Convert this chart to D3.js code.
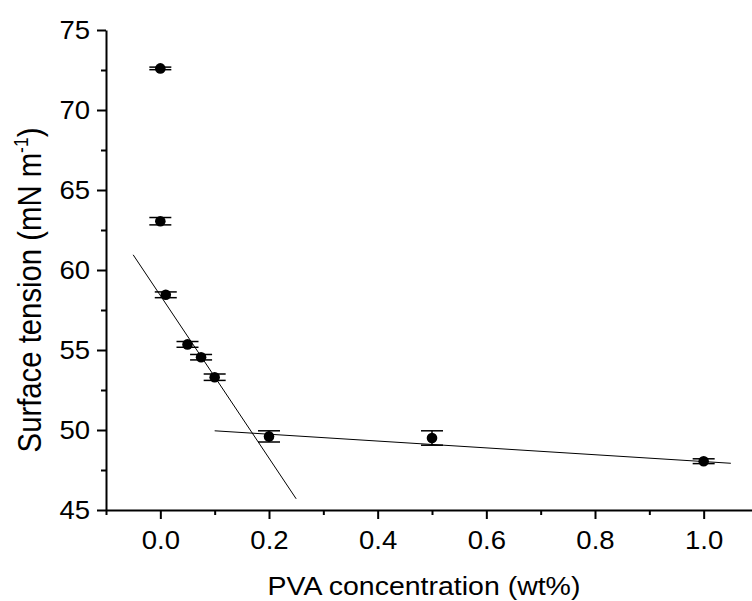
<!DOCTYPE html>
<html>
<head>
<meta charset="utf-8">
<script src="https://cdn.jsdelivr.net/npm/d3@7"></script>
<style>
    body { margin: 0; background: #fff; }
    svg { display: block; font-family: "Liberation Sans", Arial, sans-serif; }
</style>
</head>
<body>
<div id="chart"></div>
<script>
/**** DATA ****/

// PVA concentration (wt%) and surface tension (mN/m) with error
var concentration = [0, 0, 0.01, 0.05, 0.075, 0.1, 0.2, 0.5, 1.0];
var tension = [72.6, 63.05, 58.45, 55.35, 54.55, 53.3, 49.6, 49.5, 48.05];
var tensionErr = [0.08, 0.23, 0.18, 0.18, 0.17, 0.2, 0.35, 0.45, 0.15];

// Linear fits (end points)
var fitSteepX = [-0.05, 0.25];
var fitSteepY = [60.95, 45.7];
var fitFlatX = [0.1, 1.05];
var fitFlatY = [49.95, 47.92];

// Ticks
var xMajorTicks = [0.0, 0.2, 0.4, 0.6, 0.8, 1.0];
var xMinorTicks = [-0.1, 0.1, 0.3, 0.5, 0.7, 0.9];
var yMajorTicks = [45, 50, 55, 60, 65, 70, 75];
var yMinorTicks = [47.5, 52.5, 57.5, 62.5, 67.5, 72.5];

/**** CHART DRAWING ****/

var width = 752,
    height = 601;
// reference text is a little wider than Arial, stretch glyphs horizontally
var stretch = 1.08;

var x = d3.scaleLinear().domain([-0.1, 1.1]).range([106, 758]);
var y = d3.scaleLinear().domain([45, 75]).range([510, 30]);

var svg = d3.select('#chart')
    .append('svg')
    .attr('width', width)
    .attr('height', height);

// Y axis (major + minor)
var yAxis = d3.axisLeft(y)
    .tickValues(yMajorTicks)
    .tickSize(9)
    .tickSizeOuter(0)
    .tickPadding(7)
    .tickFormat(d3.format('d'));
var gy = svg.append('g')
    .attr('transform', 'translate(' + x(-0.1) + ',0)')
    .call(yAxis);
svg.append('g')
    .attr('transform', 'translate(' + x(-0.1) + ',0)')
    .call(d3.axisLeft(y).tickValues(yMinorTicks).tickSize(5).tickSizeOuter(0).tickFormat(''))
    .select('.domain').remove();

// X axis (major + minor)
var xAxis = d3.axisBottom(x)
    .tickValues(xMajorTicks)
    .tickSize(9)
    .tickSizeOuter(0)
    .tickPadding(12)
    .tickFormat(d3.format('.1f'));
var gx = svg.append('g')
    .attr('transform', 'translate(0,' + y(45) + ')')
    .call(xAxis);
svg.append('g')
    .attr('transform', 'translate(0,' + y(45) + ')')
    .call(d3.axisBottom(x).tickValues(xMinorTicks).tickSize(5).tickSizeOuter(0).tickFormat(''))
    .select('.domain').remove();

svg.selectAll('.domain, .tick line')
    .attr('stroke', '#000')
    .attr('stroke-width', 2);
svg.selectAll('.tick text')
    .attr('fill', '#000')
    .style('font-size', '25.5px')
    .style('font-family', '"Liberation Sans", Arial, sans-serif')
    .attr('transform', 'scale(' + stretch + ',1)');
// keep right edge of y labels in place after scaling
gy.selectAll('.tick text').attr('x', -16 / stretch);

// Axis titles
svg.append('text')
    .attr('transform', 'translate(424,595) scale(1.075,1)')
    .attr('text-anchor', 'middle')
    .style('font-size', '26.5px')
    .text('PVA concentration (wt%)');

var yTitle = svg.append('text')
    .attr('transform', 'translate(41,290) scale(1.15,1) rotate(-90)')
    .attr('text-anchor', 'middle')
    .style('font-size', '29.3px');
yTitle.append('tspan').text('Surface tension (mN m');
yTitle.append('tspan').attr('dy', -11).style('font-size', '17.5px').text('-1');
yTitle.append('tspan').attr('dy', 11).text(')');

// Fit lines
var line = d3.line()
    .x(function(d) { return x(d[0]); })
    .y(function(d) { return y(d[1]); });

svg.append('path')
    .datum(d3.zip(fitSteepX, fitSteepY))
    .attr('d', line)
    .attr('fill', 'none')
    .attr('stroke', '#000')
    .attr('stroke-width', 1);
svg.append('path')
    .datum(d3.zip(fitFlatX, fitFlatY))
    .attr('d', line)
    .attr('fill', 'none')
    .attr('stroke', '#000')
    .attr('stroke-width', 1);

// Points with error bars
var pts = d3.range(concentration.length).map(function(i) {
    return {c: concentration[i], t: tension[i], e: tensionErr[i]};
});
var capW = 11;

var g = svg.selectAll('.pt')
    .data(pts)
    .enter()
    .append('g')
    .attr('class', 'pt');

g.append('line')
    .attr('x1', function(d) { return x(d.c); })
    .attr('x2', function(d) { return x(d.c); })
    .attr('y1', function(d) { return y(d.t + d.e); })
    .attr('y2', function(d) { return y(d.t - d.e); })
    .attr('stroke', '#000')
    .attr('stroke-width', 1.5);
[1, -1].forEach(function(s) {
    g.append('line')
        .attr('x1', function(d) { return x(d.c) - capW; })
        .attr('x2', function(d) { return x(d.c) + capW; })
        .attr('y1', function(d) { return y(d.t + s * d.e); })
        .attr('y2', function(d) { return y(d.t + s * d.e); })
        .attr('stroke', '#000')
        .attr('stroke-width', 1.5);
});
g.append('circle')
    .attr('cx', function(d) { return x(d.c); })
    .attr('cy', function(d) { return y(d.t); })
    .attr('r', 5.3)
    .attr('fill', '#000');
</script>
</body>
</html>
